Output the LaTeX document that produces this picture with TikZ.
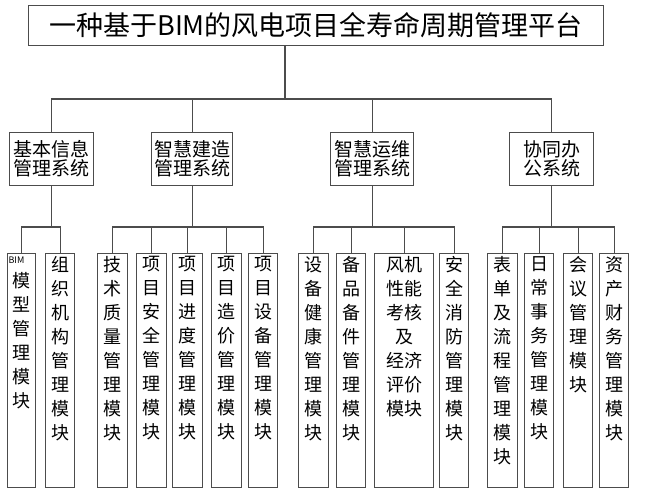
\documentclass[tikz,border=0pt]{standalone}
\usepackage{fontspec}
\setmainfont{Noto Sans CJK SC}
\begin{document}
\begin{tikzpicture}[x=1pt,y=-1pt,
  ln/.style={draw=black!70,line width=1.1pt},
  sys/.style={ln,inner sep=2pt,font=\fontsize{19}{23}\selectfont,align=center,anchor=north west},
  leaf/.style={ln,inner sep=0pt,anchor=north west,font=\fontsize{18}{24}\selectfont}]
\useasboundingbox (0,0) rectangle (654,500);
\newcommand{\lf}[4]{\node[leaf] (#1) at (#2,253) {\parbox[t][234pt][t]{#3pt}{\centering\vspace{3pt}#4}};}
\node[ln,minimum width=575pt,minimum height=40pt,anchor=north west,font=\fontsize{27}{30}\selectfont] (t) at (28,5) {一种基于BIM的风电项目全寿命周期管理平台};
\node[sys,minimum width=84pt,minimum height=53pt] (s1) at (9,132) {基本信息\\[-4pt]管理系统};
\node[sys,minimum width=81pt,minimum height=53pt] (s2) at (151,132) {智慧建造\\[-4pt]管理系统};
\node[sys,minimum width=83pt,minimum height=53pt] (s3) at (330,132) {智慧运维\\[-4pt]管理系统};
\node[sys,minimum width=84pt,minimum height=53pt] (s4) at (509,132) {协同办\\[-4pt]公系统};
\coordinate (b0) at (285,99);
\draw[ln] (b0) -- (t.south-|b0);
\draw[ln] (s1.north) |- (b0) -| (s4.north);
\draw[ln] (s2.north) -- (s2.north|-b0);
\draw[ln] (s3.north) -- (s3.north|-b0);
\lf{a1}{7}{28}{\raggedright\fontsize{9}{11}\selectfont\hspace*{1pt}BIM\par\centering\fontsize{18}{24}\selectfont 模\\型\\管\\理\\模\\块}
\lf{a2}{45}{29}{组\\织\\机\\构\\管\\理\\模\\块}
\lf{b1}{97}{30}{技\\术\\质\\量\\管\\理\\模\\块}
\lf{b2}{136}{30}{项\\目\\安\\全\\管\\理\\模\\块}
\lf{b3}{172}{30}{项\\目\\进\\度\\管\\理\\模\\块}
\lf{b4}{211}{30}{项\\目\\造\\价\\管\\理\\模\\块}
\lf{b5}{248}{29}{项\\目\\设\\备\\管\\理\\模\\块}
\lf{c1}{298}{30}{设\\备\\健\\康\\管\\理\\模\\块}
\lf{c2}{336}{29}{备\\品\\备\\件\\管\\理\\模\\块}
\lf{c3}{374}{59}{风机\\性能\\考核\\及\\经济\\评价\\模块}
\lf{c4}{439}{29}{安\\全\\消\\防\\管\\理\\模\\块}
\lf{d1}{487}{30}{表\\单\\及\\流\\程\\管\\理\\模\\块}
\lf{d2}{524}{29}{日\\常\\事\\务\\管\\理\\模\\块}
\lf{d3}{563}{29}{会\\议\\管\\理\\模\\块}
\lf{d4}{599}{29}{资\\产\\财\\务\\管\\理\\模\\块}
\draw[ln] (s1.south) -- (s1.south|-0,227);
\draw[ln] (a1.north) -- (a1.north|-0,227) -- (a2.north|-0,227) -- (a2.north);
\draw[ln] (s2.south) -- (s2.south|-0,227);
\draw[ln] (b1.north) -- (b1.north|-0,227) -- (b5.north|-0,227) -- (b5.north);
\foreach \n in {b2,b3,b4} \draw[ln] (\n.north) -- (\n.north|-0,227);
\draw[ln] (s3.south) -- (s3.south|-0,227);
\draw[ln] (c1.north) -- (c1.north|-0,227) -- (c4.north|-0,227) -- (c4.north);
\foreach \n in {c2,c3} \draw[ln] (\n.north) -- (\n.north|-0,227);
\draw[ln] (s4.south) -- (s4.south|-0,227);
\draw[ln] (d1.north) -- (d1.north|-0,227) -- (d4.north|-0,227) -- (d4.north);
\foreach \n in {d2,d3} \draw[ln] (\n.north) -- (\n.north|-0,227);
\end{tikzpicture}
\end{document}
